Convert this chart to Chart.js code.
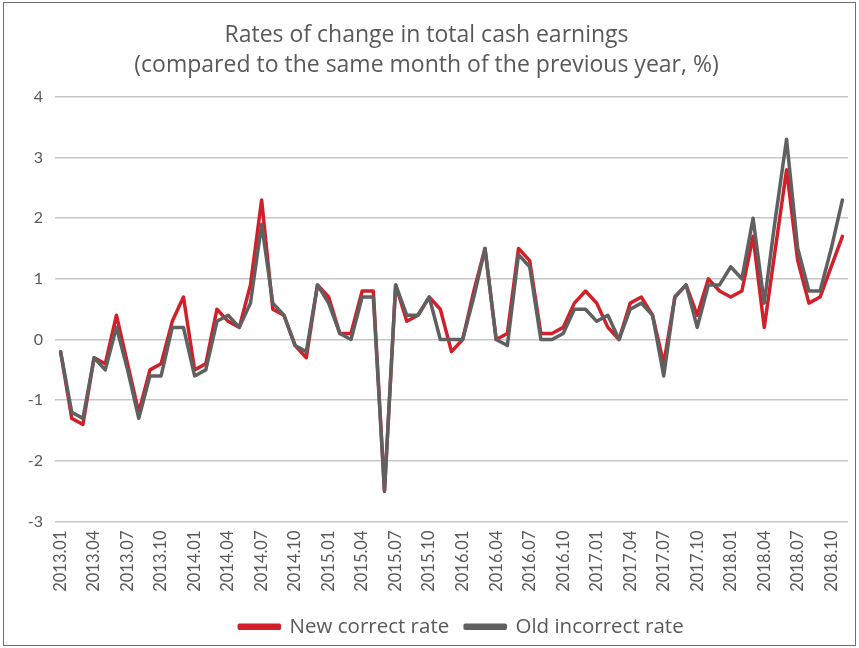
<!DOCTYPE html>
<html>
<head>
<meta charset="utf-8">
<title>Rates of change in total cash earnings</title>
<script src="https://cdn.jsdelivr.net/npm/chart.js@4.4.1/dist/chart.umd.min.js"></script>
<style>
  html, body { margin: 0; padding: 0; background: #fff; }
  #wrap { position: relative; width: 859px; height: 648px; }
  #frame {
    position: absolute; left: 3px; top: 2px; width: 853px; height: 644px;
    border: 1px solid #6e6e6e; box-sizing: border-box; pointer-events: none;
  }
  canvas { position: absolute; left: 0; top: 0; }
</style>
</head>
<body>
<div id="wrap">
  <canvas id="earnings" width="859" height="648"></canvas>
  <div id="frame"></div>
</div>
<script>
// Monthly y/y change in total cash earnings, 2013.01 - 2018.11
const months = [];
for (let y = 2013; y <= 2018; y++) {
  for (let m = 1; m <= 12; m++) {
    if (y === 2018 && m > 11) break;
    months.push(y + '.' + String(m).padStart(2, '0'));
  }
}

const newRate = [
  -0.2, -1.3, -1.4, -0.3, -0.4, 0.4, -0.4, -1.2, -0.5, -0.4, 0.3, 0.7,
  -0.5, -0.4, 0.5, 0.3, 0.2, 0.9, 2.3, 0.5, 0.4, -0.1, -0.3, 0.9,
  0.7, 0.1, 0.1, 0.8, 0.8, -2.5, 0.9, 0.3, 0.4, 0.7, 0.5, -0.2,
  0.0, 0.8, 1.5, 0.0, 0.1, 1.5, 1.3, 0.1, 0.1, 0.2, 0.6, 0.8,
  0.6, 0.2, 0.0, 0.6, 0.7, 0.4, -0.4, 0.7, 0.9, 0.4, 1.0, 0.8,
  0.7, 0.8, 1.7, 0.2, 1.5, 2.8, 1.3, 0.6, 0.7, 1.2, 1.7
];

const oldRate = [
  -0.2, -1.2, -1.3, -0.3, -0.5, 0.2, -0.5, -1.3, -0.6, -0.6, 0.2, 0.2,
  -0.6, -0.5, 0.3, 0.4, 0.2, 0.6, 1.9, 0.6, 0.4, -0.1, -0.2, 0.9,
  0.6, 0.1, 0.0, 0.7, 0.7, -2.5, 0.9, 0.4, 0.4, 0.7, 0.0, 0.0,
  0.0, 0.7, 1.5, 0.0, -0.1, 1.4, 1.2, 0.0, 0.0, 0.1, 0.5, 0.5,
  0.3, 0.4, 0.0, 0.5, 0.6, 0.4, -0.6, 0.7, 0.9, 0.2, 0.9, 0.9,
  1.2, 1.0, 2.0, 0.6, 2.0, 3.3, 1.5, 0.8, 0.8, 1.5, 2.3
];

const yTicks = [-3, -2, -1, 0, 1, 2, 3, 4];

const RED = '#d2202a';
const GREY = '#606060';
const TEXT = '#595959';
const FONT = '"Open Sans", Lato, sans-serif';

// nudge the legend a little right of centre
const legendShift = {
  id: 'legendShift',
  afterLayout(chart) {
    chart.legend.left += 35;
    chart.legend.right += 35;
  }
};

const ctx = document.getElementById('earnings');

new Chart(ctx, {
  type: 'line',
  plugins: [legendShift],
  data: {
    labels: months,
    // grey first so it is painted over the red line; legend is reversed
    datasets: [
      {
        label: 'Old incorrect rate',
        data: oldRate,
        borderColor: GREY,
        backgroundColor: GREY,
        borderWidth: 3.5,
        pointRadius: 0,
        tension: 0,
        borderJoinStyle: 'round',
        borderCapStyle: 'round'
      },
      {
        label: 'New correct rate',
        data: newRate,
        borderColor: RED,
        backgroundColor: RED,
        borderWidth: 3.5,
        pointRadius: 0,
        tension: 0,
        borderJoinStyle: 'round',
        borderCapStyle: 'round'
      }
    ]
  },
  options: {
    responsive: false,
    animation: false,
    layout: { padding: { left: 5, right: 11, top: 11, bottom: 1 } },
    plugins: {
      tooltip: { enabled: false },
      title: {
        display: true,
        text: ['Rates of change in total cash earnings',
               '(compared to the same month of the previous year, %)'],
        color: TEXT,
        font: { family: FONT, size: 23, weight: 'normal', lineHeight: 1.28 },
        padding: { top: 10, bottom: 17 }
      },
      legend: {
        position: 'bottom',
        reverse: true,
        labels: {
          color: TEXT,
          font: { family: FONT, size: 20.5 },
          boxWidth: 40,
          boxHeight: 3,
          padding: 16
        }
      }
    },
    scales: {
      x: {
        offset: true,
        grid: { display: false, drawTicks: false },
        border: { display: false },
        ticks: {
          color: TEXT,
          font: { family: 'Lato, sans-serif', size: 16.5 },
          autoSkip: false,
          minRotation: 90,
          maxRotation: 90,
          padding: 9,
          callback: function (val, i) {
            return i % 3 === 0 ? this.getLabelForValue(val) : '';
          }
        },
        afterFit: (scale) => {
          scale.height = 79;
          // rotated labels sit inside the plot width, no side padding needed
          scale.paddingLeft = 0;
          scale.paddingRight = 0;
        }
      },
      y: {
        min: -3,
        max: 4,
        afterBuildTicks: (scale) => { scale.ticks = yTicks.map(v => ({ value: v })); },
        grid: { color: '#c6c6c6', lineWidth: 1.5, drawTicks: false },
        border: { display: false },
        ticks: {
          color: TEXT,
          font: { family: 'Lato, sans-serif', size: 16 },
          padding: 12
        },
        afterFit: (scale) => { scale.width = 50; }
      }
    }
  }
});
</script>
</body>
</html>
